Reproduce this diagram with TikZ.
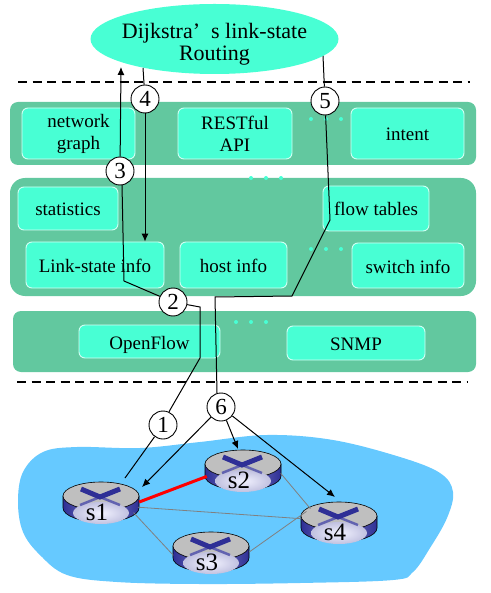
\documentclass[tikz,border=0pt]{standalone}
\usepackage{fontspec}
\setmainfont{Liberation Serif}
\usetikzlibrary{positioning,arrows,arrows.meta,shapes,shapes.geometric}
\definecolor{mint}{HTML}{48FFD4}
\definecolor{layergreen}{HTML}{62C89F}
\definecolor{netblue}{HTML}{66C9FF}
\definecolor{routerblue}{HTML}{2E2F96}
\tikzset{layerbox/.style={fill=layergreen, inner sep=0pt, rounded corners=8pt}}
\tikzset{modbox/.style={fill=mint, draw=white!75!mint, line width=0.9pt, rounded corners=6pt, inner sep=0pt, align=center, font=\fontsize{19}{22}\selectfont}}
\tikzset{modline/.style={modbox, text height=15pt, text depth=0pt}}
\tikzset{stepnum/.style={circle, draw, fill=white, line width=0.9pt, minimum size=28pt, inner sep=0pt, font=\fontsize{23}{23}\selectfont}}
\tikzset{arr/.style={draw, -{Latex[length=8pt,width=7pt]}, line width=1pt}}
\tikzset{wire/.style={draw, line width=1pt}}
\tikzset{link/.style={draw=gray, line width=0.8pt}}
\tikzset{sep/.style={draw, line width=1.3pt, dash pattern=on 9pt off 5.5pt}}
\tikzset{routerbody/.style={ellipse, minimum width=76pt, minimum height=40pt, inner sep=0pt}}
\newcommand{\router}[4]{%
  \begin{scope}[shift={(#2,#3)}]
    \draw[line width=0.6pt, left color=routerblue, right color=routerblue, middle color=routerblue!60!white]
      (-38,0) -- (-38,12) arc[start angle=180, end angle=360, x radius=38pt, y radius=14pt] -- (38,0) -- cycle;
    \draw[line width=0.6pt, fill=black!25] (0,0) ellipse[x radius=38pt, y radius=14pt];
    \shade[inner color=blue!5!white, outer color=routerblue!30!white] (0,17) ellipse[x radius=28pt, y radius=11pt];
    \draw[routerblue!75, line width=2.5pt] (-21,9) -- (-1,1) -- (19,9);
    \draw[routerblue, line width=5pt] (-20,-7) -- (-1,1) -- (19,-7);
    \node[routerbody] (#1) at (0,6) {};
    \node[font=\fontsize{25}{25}\selectfont] (#1lab) at (-4,16) {#4};
  \end{scope}}

\begin{document}
\begin{tikzpicture}[x=1pt, y=-1pt]
  \useasboundingbox (0,0) rectangle (490,593);
  % controller app
  \node[ellipse, fill=mint, minimum width=248pt, minimum height=70pt, inner sep=0pt] (dijkstra) at (214.5,39) {};
  \node[align=center, inner sep=0pt, font=\fontsize{22}{22.5}\selectfont] (dijkstratext) at (214.5,44) {Dijkstra’\ \ s link-state\\Routing};
  \draw[sep] (18,82) coordinate (sepa) -- (470,82) coordinate (sepb);
  \draw[sep] (17,382) coordinate (sepc) -- (468,382) coordinate (sepd);
  % layers
  \node[layerbox, minimum width=466pt, minimum height=63pt] (northlayer) at (243,133.5) {};
  \node[layerbox, rounded corners=15pt, minimum width=466pt, minimum height=118pt] (corelayer) at (243,237) {};
  \node[layerbox, minimum width=463pt, minimum height=61pt] (southlayer) at (244.5,341.5) {};
  \node[modbox, minimum width=113pt, minimum height=51pt] (graph) at (78.5,133.5) {network\\graph};
  \node[modbox, minimum width=114pt, minimum height=51pt] (rest) at (235,133.5) {RESTful\\API};
  \node[modline, minimum width=113pt, minimum height=51pt] (intent) at (407.5,133.5) {intent};
  \node[modline, minimum width=100pt, minimum height=43pt] (stats) at (68,208.5) {statistics};
  \node[modline, minimum width=106pt, minimum height=45pt] (flow) at (376,208.5) {flow tables};
  \node[modline, minimum width=138pt, minimum height=46pt] (lsinfo) at (95,265) {Link-state info};
  \node[modline, minimum width=107pt, minimum height=46pt] (hostinfo) at (233.5,265) {host info};
  \node[modline, minimum width=112pt, minimum height=45pt] (swinfo) at (408,265.5) {switch info};
  \node[modline, minimum width=141pt, minimum height=33pt] (openflow) at (149.5,341.5) {OpenFlow};
  \node[modline, minimum width=138pt, minimum height=34pt] (snmp) at (356,343) {SNMP};
  % dots
  \foreach \dotx/\doty in {311/119, 251/178, 311/249, 236/322}
    \foreach \dotn in {0,15,30}
      \fill[mint] (\dotx+\dotn,\doty) circle (2pt);
  % network
  \fill[netblue] plot[smooth cycle, tension=0.6] coordinates {(77,447) (140,448) (200,442) (267,435) (333,440) (400,457) (440,473) (453,492) (447,518) (430,548) (413,572) (393,580) (300,583) (200,584) (117,582) (67,575) (40,555) (23,532) (18,502) (23,472) (43,452)};
  \router{s1}{101}{496}{s1}
  \router{s2}{243}{464}{s2}
  \router{s3}{211}{546}{s3}
  \router{s4}{339}{516}{s4}
  \draw[link] (s1.-8) -- (s4.175);
  \draw[link] (s1.-18) -- (s3.185);
  \draw[link] (s2.-5) -- (s4.155);
  \draw[link] (s3.0) -- (s4.162);
  \draw[draw=red, line width=3pt] (s1.east) -- (s2.190);
  % steps
  \node[stepnum] (n1) at (163,425) {1};
  \node[stepnum] (n2) at (173,302) {2};
  \node[stepnum] (n3) at (120,171) {3};
  \node[stepnum] (n4) at (145,99) {4};
  \node[stepnum] (n5) at (325,101) {5};
  \node[stepnum] (n6) at (221,407) {6};
  \coordinate (s1top) at (125,478);
  \coordinate (appin) at (121,67);
  \coordinate (appout) at (143,68);
  \coordinate (appout5) at (323,56);
  \draw[wire] (s1top) -- (n1);
  \draw[wire] (n1) -- (170,410) -- (200,358) -- (200,307) -- (n2);
  \draw[wire] (n2) -- (124,281) -- (122,185) -- (n3);
  \draw[arr] (n3) -- (appin);
  \draw[wire] (appout) -- (n4);
  \draw[arr] (n4) -- (lsinfo.north -| n4);
  \draw[wire] (appout5) -- (n5);
  \draw[wire] (n5) -- (330,220) -- (292,296) -- (215,297) -- (217,393) -- (n6);
  \coordinate (s1in) at (142,487);
  \coordinate (s2in) at (238,449);
  \coordinate (s4in) at (335,497);
  \draw[arr] (n6) -- (s1in);
  \draw[arr] (n6) -- (s2in);
  \draw[arr] (n6) -- (s4in);
\end{tikzpicture}
\end{document}
